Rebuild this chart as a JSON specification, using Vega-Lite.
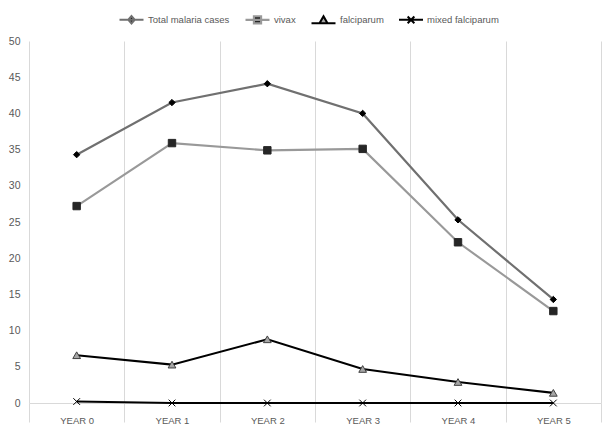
{
  "$schema": "https://vega.github.io/schema/vega-lite/v6.json",
  "width": 572,
  "height": 362,
  "autosize": "none",
  "padding": {"left": 29, "top": 41, "right": 14, "bottom": 26},
  "background": "white",
  "config": {
    "view": {"stroke": null},
    "font": "Liberation Sans"
  },
  "data": {
    "values": [
      {"year": "YEAR 0", "series": "Total malaria cases", "value": 34.3},
      {"year": "YEAR 1", "series": "Total malaria cases", "value": 41.5},
      {"year": "YEAR 2", "series": "Total malaria cases", "value": 44.1},
      {"year": "YEAR 3", "series": "Total malaria cases", "value": 40.0},
      {"year": "YEAR 4", "series": "Total malaria cases", "value": 25.3},
      {"year": "YEAR 5", "series": "Total malaria cases", "value": 14.3},
      {"year": "YEAR 0", "series": "vivax", "value": 27.2},
      {"year": "YEAR 1", "series": "vivax", "value": 35.9},
      {"year": "YEAR 2", "series": "vivax", "value": 34.9},
      {"year": "YEAR 3", "series": "vivax", "value": 35.1},
      {"year": "YEAR 4", "series": "vivax", "value": 22.2},
      {"year": "YEAR 5", "series": "vivax", "value": 12.7},
      {"year": "YEAR 0", "series": "falciparum", "value": 6.6},
      {"year": "YEAR 1", "series": "falciparum", "value": 5.3},
      {"year": "YEAR 2", "series": "falciparum", "value": 8.8},
      {"year": "YEAR 3", "series": "falciparum", "value": 4.7},
      {"year": "YEAR 4", "series": "falciparum", "value": 2.9},
      {"year": "YEAR 5", "series": "falciparum", "value": 1.4},
      {"year": "YEAR 0", "series": "mixed falciparum", "value": 0.2},
      {"year": "YEAR 1", "series": "mixed falciparum", "value": 0.0},
      {"year": "YEAR 2", "series": "mixed falciparum", "value": 0.0},
      {"year": "YEAR 3", "series": "mixed falciparum", "value": 0.0},
      {"year": "YEAR 4", "series": "mixed falciparum", "value": 0.0},
      {"year": "YEAR 5", "series": "mixed falciparum", "value": 0.0}
    ]
  },
  "encoding": {
    "x": {
      "field": "year",
      "type": "ordinal",
      "bandPosition": 0.5,
      "scale": {"type": "band", "paddingInner": 0, "paddingOuter": 0},
      "axis": {
        "title": null,
        "labelAngle": 0,
        "tickBand": "extent",
        "grid": true,
        "gridColor": "#d9d9d9",
        "gridWidth": 1,
        "tickColor": "#d9d9d9",
        "tickSize": 19,
        "domainColor": "#d9d9d9",
        "labelPadding": -7,
        "labelFontSize": 9.5,
        "labelColor": "#595959",
        "labelFont": "Liberation Sans"
      }
    },
    "y": {
      "field": "value",
      "type": "quantitative",
      "scale": {"domain": [0, 50], "nice": false},
      "axis": {
        "title": null,
        "values": [0, 5, 10, 15, 20, 25, 30, 35, 40, 45, 50],
        "grid": false,
        "domain": false,
        "ticks": false,
        "labelPadding": 9,
        "labelFontSize": 10.5,
        "labelColor": "#595959",
        "labelFont": "Liberation Sans"
      }
    }
  },
  "layer": [
    {
      "mark": {"type": "line"},
      "encoding": {
        "color": {
          "field": "series",
          "type": "nominal",
          "scale": {
            "domain": ["Total malaria cases", "vivax", "falciparum", "mixed falciparum"],
            "range": ["#707070", "#999999", "#000000", "#000000"]
          },
          "legend": {
            "title": null,
            "orient": "none",
            "direction": "horizontal",
            "legendX": 89,
            "legendY": -35,
            "padding": 0,
            "columnPadding": 11,
            "symbolSize": 576,
            "labelOffset": 3,
            "labelFontSize": 9.5,
            "labelColor": "#595959",
            "labelFont": "Liberation Sans",
            "encode": {
              "symbols": {
                "update": {
                  "shape": {"signal": "datum.value === 'Total malaria cases' ? 'M-1,0H1M0,-0.3L0.26,0L0,0.3L-0.26,0Z' : datum.value === 'vivax' ? 'M-1,0H1M-0.3,-0.3H0.3V0.3H-0.3Z' : datum.value === 'falciparum' ? 'M-1,0.25H1M0,-0.33L0.33,0.25H-0.33Z' : 'M-1,0H1M-0.28,-0.28L0.28,0.28M0.28,-0.28L-0.28,0.28'"},
                  "size": {"value": 576},
                  "fill": {"signal": "datum.value === 'Total malaria cases' ? '#000000' : datum.value === 'vivax' ? '#262626' : datum.value === 'falciparum' ? '#a6a6a6' : 'transparent'"},
                  "stroke": {"signal": "datum.value === 'Total malaria cases' ? '#333333' : datum.value === 'vivax' ? '#777777' : '#000000'"},
                  "strokeWidth": {"value": 1.5},
                  "opacity": {"value": 1}
                }
              }
            }
          }
        },
        "strokeWidth": {
          "field": "series",
          "type": "nominal",
          "scale": {
            "domain": ["Total malaria cases", "vivax", "falciparum", "mixed falciparum"],
            "range": [2.2, 2, 2.5, 2.5]
          },
          "legend": null
        }
      }
    },
    {
      "transform": [{"filter": "datum.series === 'Total malaria cases'"}],
      "mark": {"type": "point", "shape": "diamond", "filled": true, "fill": "#000000", "stroke": "#000000", "strokeWidth": 1, "size": 40, "opacity": 1}
    },
    {
      "transform": [{"filter": "datum.series === 'vivax'"}],
      "mark": {"type": "point", "shape": "square", "filled": true, "fill": "#262626", "stroke": "#262626", "strokeWidth": 1, "size": 55, "opacity": 1}
    },
    {
      "transform": [{"filter": "datum.series === 'falciparum'"}],
      "mark": {"type": "point", "shape": "triangle-up", "filled": true, "fill": "#a6a6a6", "stroke": "#404040", "strokeWidth": 1, "size": 60, "opacity": 1}
    },
    {
      "transform": [{"filter": "datum.series === 'mixed falciparum'"}],
      "mark": {"type": "point", "shape": "M-1,-1L1,1M1,-1L-1,1", "filled": false, "fill": "transparent", "stroke": "#000000", "strokeWidth": 1, "size": 45, "opacity": 1}
    }
  ]
}
